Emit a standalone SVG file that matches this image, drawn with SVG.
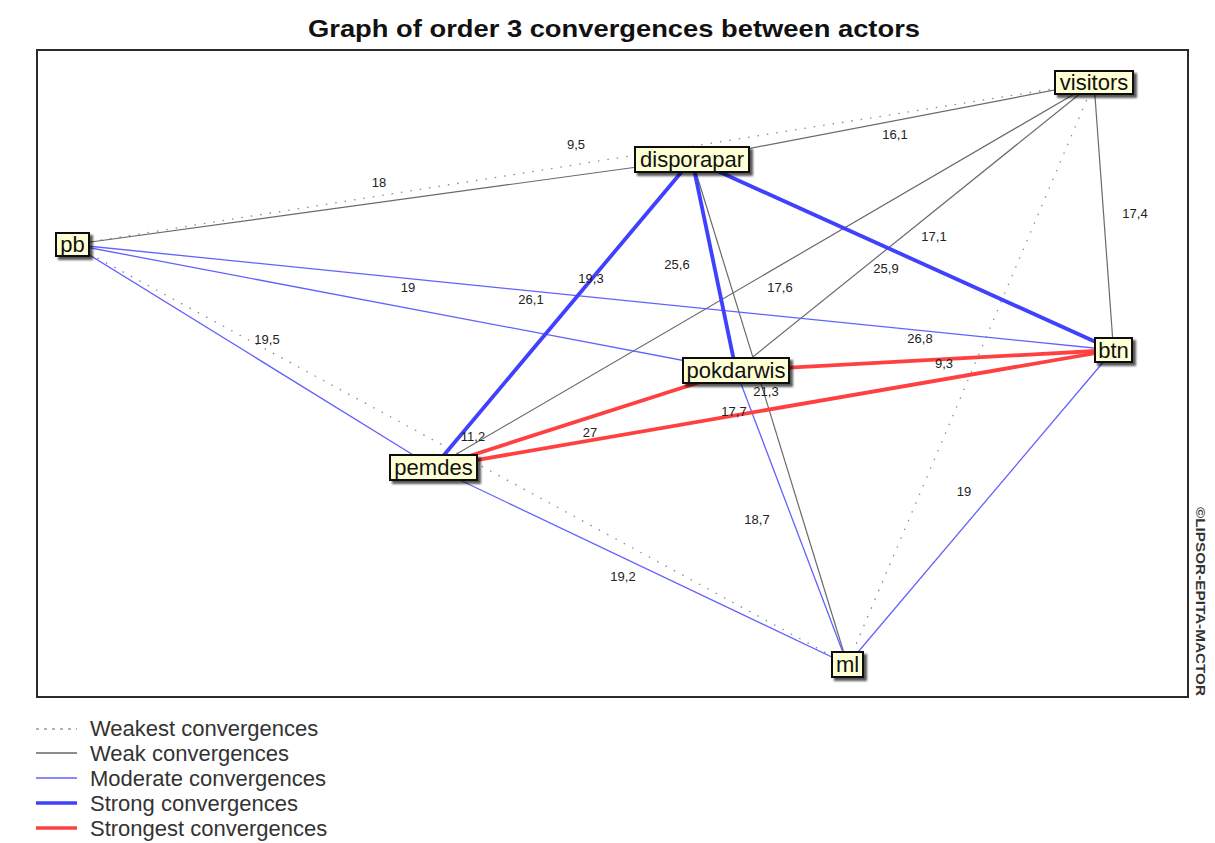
<svg xmlns="http://www.w3.org/2000/svg" width="1215" height="843" viewBox="0 0 1215 843">
  <defs>
    <filter id="shadow" x="-20%" y="-30%" width="150%" height="180%">
      <feDropShadow dx="3" dy="3" stdDeviation="1.2" flood-color="#000" flood-opacity="0.65"/>
    </filter>
    <style>
      .title { font-family: "Liberation Sans", Arial, sans-serif; font-weight: bold; font-size: 24px; fill: #111; }
      .frame { fill: #fff; stroke: #2a2a2a; stroke-width: 2; }
      .weakest { stroke: #8a8a8a; stroke-width: 1.3; stroke-dasharray: 1.5 8; fill: none; }
      .weak { stroke: #6a6a6a; stroke-width: 1.2; fill: none; }
      .moderate { stroke: #6262ff; stroke-width: 1.3; fill: none; }
      .strong { stroke: #4040ff; stroke-width: 3.8; fill: none; }
      .strongest { stroke: #ff4040; stroke-width: 3.8; fill: none; }
      .lbl { font-family: "Liberation Sans", Arial, sans-serif; font-size: 13px; fill: #222; text-anchor: middle; }
      .box { fill: #ffffd5; stroke: #111; stroke-width: 2; filter: url(#shadow); }
      .ntext { font-family: "Liberation Sans", Arial, sans-serif; font-size: 22px; fill: #111; text-anchor: middle; }
      .legtext { font-family: "Liberation Sans", Arial, sans-serif; font-size: 22px; fill: #333; }
      .legdot { stroke: #999; stroke-width: 1.5; stroke-dasharray: 3 5; }
      .wm { font-family: "Liberation Sans", Arial, sans-serif; font-size: 12.5px; font-weight: bold; fill: #333; }
    </style>
  </defs>

  <rect width="1215" height="843" fill="#fff"/>
  <text class="title" x="308" y="37" textLength="612" lengthAdjust="spacingAndGlyphs">Graph of order 3 convergences between actors</text>
  <rect class="frame" x="37" y="50" width="1151" height="647"/>

  <g id="connectors">
    <!-- weakest (dotted) -->
    <line class="weakest" x1="72.5" y1="244.5" x2="1094" y2="82.5"/>
    <line class="weakest" x1="72.5" y1="244.5" x2="847.5" y2="664.5"/>
    <line class="weakest" x1="1094" y1="82.5" x2="847.5" y2="664.5"/>
    <!-- weak -->
    <line class="weak" x1="72.5" y1="244.5" x2="692" y2="159.5"/>
    <line class="weak" x1="692" y1="159.5" x2="1094" y2="82.5"/>
    <line class="weak" x1="692" y1="159.5" x2="847.5" y2="664.5"/>
    <line class="weak" x1="1094" y1="82.5" x2="736" y2="370.5"/>
    <line class="weak" x1="1094" y1="82.5" x2="433.5" y2="467.5"/>
    <line class="weak" x1="1094" y1="82.5" x2="1113.5" y2="350"/>
    <!-- moderate -->
    <line class="moderate" x1="72.5" y1="244.5" x2="1113.5" y2="350"/>
    <line class="moderate" x1="72.5" y1="244.5" x2="736" y2="370.5"/>
    <line class="moderate" x1="72.5" y1="244.5" x2="433.5" y2="467.5"/>
    <line class="moderate" x1="1113.5" y1="350" x2="847.5" y2="664.5"/>
    <line class="moderate" x1="736" y1="370.5" x2="847.5" y2="664.5"/>
    <line class="moderate" x1="433.5" y1="467.5" x2="847.5" y2="664.5"/>
    <!-- strong -->
    <line class="strong" x1="692" y1="159.5" x2="1113.5" y2="350"/>
    <line class="strong" x1="692" y1="159.5" x2="736" y2="370.5"/>
    <line class="strong" x1="692" y1="159.5" x2="433.5" y2="467.5"/>
    <!-- strongest -->
    <line class="strongest" x1="1113.5" y1="350" x2="736" y2="370.5"/>
    <line class="strongest" x1="1113.5" y1="350" x2="433.5" y2="467.5"/>
    <line class="strongest" x1="736" y1="370.5" x2="433.5" y2="467.5"/>
  </g>

  <g id="edge-labels">
    <text class="lbl" x="576" y="149">9,5</text>
    <text class="lbl" x="379" y="187">18</text>
    <text class="lbl" x="895" y="139">16,1</text>
    <text class="lbl" x="1135" y="218">17,4</text>
    <text class="lbl" x="934" y="241">17,1</text>
    <text class="lbl" x="886" y="273">25,9</text>
    <text class="lbl" x="677" y="269">25,6</text>
    <text class="lbl" x="591" y="283">19,3</text>
    <text class="lbl" x="408" y="292">19</text>
    <text class="lbl" x="531" y="304">26,1</text>
    <text class="lbl" x="780" y="292">17,6</text>
    <text class="lbl" x="920" y="343">26,8</text>
    <text class="lbl" x="944" y="368">9,3</text>
    <text class="lbl" x="964" y="496">19</text>
    <text class="lbl" x="267" y="344">19,5</text>
    <text class="lbl" x="473" y="441">11,2</text>
    <text class="lbl" x="590" y="437">27</text>
    <text class="lbl" x="734" y="416">17,7</text>
    <text class="lbl" x="766" y="396">21,3</text>
    <text class="lbl" x="757" y="524">18,7</text>
    <text class="lbl" x="623" y="581">19,2</text>
  </g>

  <g id="node-visitors">
    <rect class="box" x="1055" y="71" width="78" height="23"/>
    <text class="ntext" x="1094" y="90">visitors</text>
  </g>
  <g id="node-disporapar">
    <rect class="box" x="635" y="147" width="114" height="25"/>
    <text class="ntext" x="692" y="167">disporapar</text>
  </g>
  <g id="node-pb">
    <rect class="box" x="56" y="233" width="33" height="23"/>
    <text class="ntext" x="72.5" y="252">pb</text>
  </g>
  <g id="node-btn">
    <rect class="box" x="1095" y="338" width="37" height="24"/>
    <text class="ntext" x="1113.5" y="357.5">btn</text>
  </g>
  <g id="node-pokdarwis">
    <rect class="box" x="683" y="358" width="106" height="25"/>
    <text class="ntext" x="736" y="378">pokdarwis</text>
  </g>
  <g id="node-pemdes">
    <rect class="box" x="390" y="455" width="87" height="25"/>
    <text class="ntext" x="433.5" y="475">pemdes</text>
  </g>
  <g id="node-ml">
    <rect class="box" x="832" y="652" width="31" height="25"/>
    <text class="ntext" x="847.5" y="672">ml</text>
  </g>

  <g id="legend">
    <line class="legdot" x1="36" y1="729" x2="77" y2="729"/>
    <text class="legtext" x="90" y="736">Weakest convergences</text>
    <line x1="36" y1="753" x2="77" y2="753" stroke="#666" stroke-width="1.5"/>
    <text class="legtext" x="90" y="761">Weak convergences</text>
    <line x1="36" y1="778" x2="77" y2="778" stroke="#6262ff" stroke-width="1.5"/>
    <text class="legtext" x="90" y="786">Moderate convergences</text>
    <line x1="36" y1="803" x2="77" y2="803" stroke="#4040ff" stroke-width="3.5"/>
    <text class="legtext" x="90" y="811">Strong convergences</text>
    <line x1="36" y1="828" x2="77" y2="828" stroke="#ff4040" stroke-width="3.5"/>
    <text class="legtext" x="90" y="836">Strongest convergences</text>
  </g>

  <text class="wm" transform="translate(1196,507) rotate(90)" textLength="189" lengthAdjust="spacingAndGlyphs">©LIPSOR-EPITA-MACTOR</text>
</svg>
